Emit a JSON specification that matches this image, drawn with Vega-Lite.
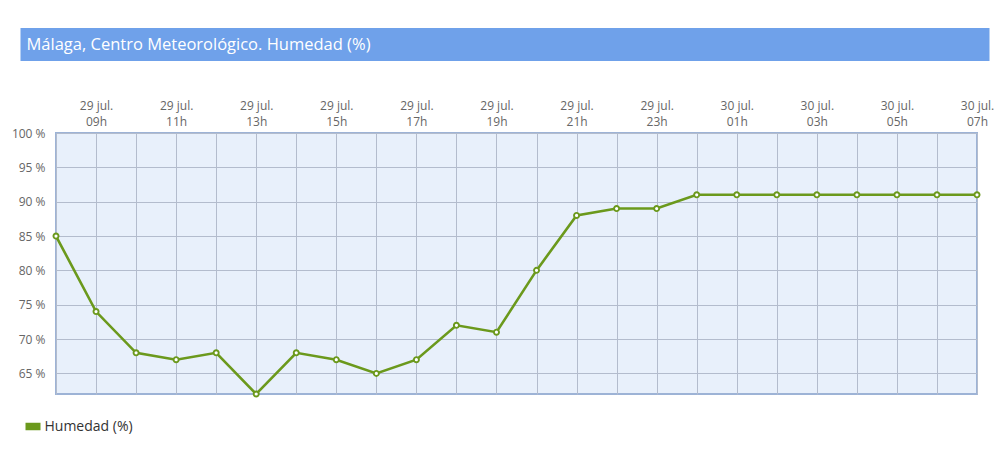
{
  "$schema": "https://vega.github.io/schema/vega-lite/v6.json",
  "padding": {"left": 10.5, "top": 28, "right": 0, "bottom": 0},
  "autosize": {"type": "pad"},
  "background": "white",
  "config": {"font": "Open Sans"},
  "datasets": {
    "humedad": [
      {"hora": "2024-07-29T08:00:00", "humedad": 85},
      {"hora": "2024-07-29T09:00:00", "humedad": 74},
      {"hora": "2024-07-29T10:00:00", "humedad": 68},
      {"hora": "2024-07-29T11:00:00", "humedad": 67},
      {"hora": "2024-07-29T12:00:00", "humedad": 68},
      {"hora": "2024-07-29T13:00:00", "humedad": 62},
      {"hora": "2024-07-29T14:00:00", "humedad": 68},
      {"hora": "2024-07-29T15:00:00", "humedad": 67},
      {"hora": "2024-07-29T16:00:00", "humedad": 65},
      {"hora": "2024-07-29T17:00:00", "humedad": 67},
      {"hora": "2024-07-29T18:00:00", "humedad": 72},
      {"hora": "2024-07-29T19:00:00", "humedad": 71},
      {"hora": "2024-07-29T20:00:00", "humedad": 80},
      {"hora": "2024-07-29T21:00:00", "humedad": 88},
      {"hora": "2024-07-29T22:00:00", "humedad": 89},
      {"hora": "2024-07-29T23:00:00", "humedad": 89},
      {"hora": "2024-07-30T00:00:00", "humedad": 91},
      {"hora": "2024-07-30T01:00:00", "humedad": 91},
      {"hora": "2024-07-30T02:00:00", "humedad": 91},
      {"hora": "2024-07-30T03:00:00", "humedad": 91},
      {"hora": "2024-07-30T04:00:00", "humedad": 91},
      {"hora": "2024-07-30T05:00:00", "humedad": 91},
      {"hora": "2024-07-30T06:00:00", "humedad": 91},
      {"hora": "2024-07-30T07:00:00", "humedad": 91}
    ]
  },
  "columns": 1,
  "align": "none",
  "spacing": 37,
  "concat": [
    {
      "width": 969,
      "height": 33,
      "data": {"values": [{"titulo": "Málaga, Centro Meteorológico. Humedad (%)"}]},
      "view": {"fill": "#6fa1ea", "stroke": null},
      "mark": {"type": "text", "align": "left", "baseline": "middle", "dx": 6, "fontSize": 16.5, "color": "white"},
      "encoding": {
        "x": {"datum": 0, "type": "quantitative", "scale": {"domain": [0, 1]}, "axis": null},
        "text": {"field": "titulo"}
      }
    },
    {
      "spacing": 2.5,
      "hconcat": [
        {
          "width": 24.5,
          "height": 261,
          "view": {"stroke": null},
          "data": {"name": "humedad"},
          "mark": {"type": "point", "opacity": 0},
          "encoding": {
            "y": {
              "field": "humedad",
              "type": "quantitative",
              "scale": {"domain": [62, 100], "nice": false, "zero": false},
              "axis": {
                "orient": "right",
                "title": null,
                "values": [65, 70, 75, 80, 85, 90, 95, 100],
                "labelExpr": "datum.value + ' %'",
                "labelAlign": "right",
                "labelPadding": 0,
                "grid": false,
                "ticks": false,
                "domain": false,
                "labelFontSize": 12,
                "labelColor": "#666666"
              }
            }
          }
        },
        {
          "width": 921,
          "height": 261,
          "view": {"fill": "#e8f0fb", "stroke": "#9db3d6", "strokeWidth": 2},
          "data": {"name": "humedad"},
          "encoding": {
            "x": {
              "field": "hora",
              "type": "temporal",
              "scale": {"nice": false},
              "axis": {
                "orient": "top",
                "title": null,
                "values": [
                  {"year": 2024, "month": 7, "date": 29, "hours": 8},
                  {"year": 2024, "month": 7, "date": 29, "hours": 9},
                  {"year": 2024, "month": 7, "date": 29, "hours": 10},
                  {"year": 2024, "month": 7, "date": 29, "hours": 11},
                  {"year": 2024, "month": 7, "date": 29, "hours": 12},
                  {"year": 2024, "month": 7, "date": 29, "hours": 13},
                  {"year": 2024, "month": 7, "date": 29, "hours": 14},
                  {"year": 2024, "month": 7, "date": 29, "hours": 15},
                  {"year": 2024, "month": 7, "date": 29, "hours": 16},
                  {"year": 2024, "month": 7, "date": 29, "hours": 17},
                  {"year": 2024, "month": 7, "date": 29, "hours": 18},
                  {"year": 2024, "month": 7, "date": 29, "hours": 19},
                  {"year": 2024, "month": 7, "date": 29, "hours": 20},
                  {"year": 2024, "month": 7, "date": 29, "hours": 21},
                  {"year": 2024, "month": 7, "date": 29, "hours": 22},
                  {"year": 2024, "month": 7, "date": 29, "hours": 23},
                  {"year": 2024, "month": 7, "date": 30, "hours": 0},
                  {"year": 2024, "month": 7, "date": 30, "hours": 1},
                  {"year": 2024, "month": 7, "date": 30, "hours": 2},
                  {"year": 2024, "month": 7, "date": 30, "hours": 3},
                  {"year": 2024, "month": 7, "date": 30, "hours": 4},
                  {"year": 2024, "month": 7, "date": 30, "hours": 5},
                  {"year": 2024, "month": 7, "date": 30, "hours": 6},
                  {"year": 2024, "month": 7, "date": 30, "hours": 7}
                ],
                "labelExpr": "hours(datum.value) % 2 == 1 ? [timeFormat(datum.value, '%d') + ' jul.', timeFormat(datum.value, '%H') + 'h'] : ''",
                "grid": true,
                "gridColor": "#b3bccd",
                "gridOpacity": 1,
                "ticks": false,
                "domain": false,
                "labelPadding": 21,
                "labelFontSize": 12,
                "labelColor": "#666666",
                "labelLineHeight": 16,
                "labelAngle": 0,
                "labelOverlap": false,
                "labelBound": false,
                "labelFlush": false
              }
            },
            "y": {
              "field": "humedad",
              "type": "quantitative",
              "scale": {"domain": [62, 100], "nice": false, "zero": false},
              "axis": {
                "title": null,
                "values": [65, 70, 75, 80, 85, 90, 95, 100],
                "labels": false,
                "grid": true,
                "gridColor": "#b3bccd",
                "gridOpacity": 1,
                "ticks": false,
                "domain": false
              }
            }
          },
          "layer": [
            {
              "mark": {"type": "line", "strokeWidth": 2.6},
              "encoding": {
                "color": {
                  "datum": "Humedad (%)",
                  "type": "nominal",
                  "scale": {"range": ["#6b991c"]},
                  "legend": {
                    "title": null,
                    "orient": "none",
                    "legendX": 5,
                    "legendY": 391,
                    "padding": 0,
                    "labelFontSize": 14,
                    "labelColor": "#333333",
                    "labelOffset": 4,
                    "symbolType": "M-1,-0.5H1V0.5H-1Z",
                    "symbolSize": 225,
                    "symbolFillColor": "#6b991c",
                    "symbolStrokeWidth": 0
                  }
                }
              }
            },
            {
              "mark": {
                "type": "point",
                "filled": false,
                "fill": "white",
                "fillOpacity": 1,
                "stroke": "#6b991c",
                "strokeWidth": 1.9,
                "size": 26,
                "opacity": 1
              }
            }
          ]
        }
      ]
    }
  ]
}
